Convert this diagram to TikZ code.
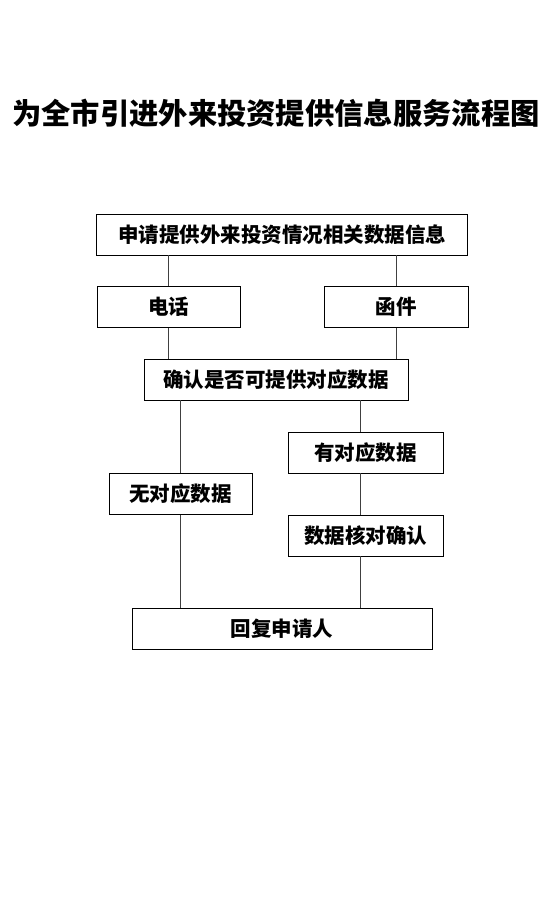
\documentclass[tikz,border=0pt]{standalone}
\usepackage{fontspec}
\newfontfamily\cjk{Noto Sans CJK SC}
\usetikzlibrary{positioning}
\tikzset{
  kasten/.style = {rectangle, draw, line width=0.9pt, fill=white, minimum height=41pt, inner sep=0pt, font=\cjk\bfseries\fontsize{20.5}{20.5}\selectfont},
  linie/.style  = {line width=0.9pt, draw=black!75},
  titel/.style  = {font=\cjk\bfseries\fontsize{29.3}{29.3}\selectfont}
}
\begin{document}
\begin{tikzpicture}[x=1pt, y=-1pt]
  \useasboundingbox (0,0) rectangle (555,916);

  % ---------- Titel ----------
  \node[titel] (T) at (276,113) {为全市引进外来投资提供信息服务流程图};

  % ---------- Antrag ----------
  \node[kasten, minimum width=371pt] (req) at (282,234.5) {申请提供外来投资情况相关数据信息};
  \node[kasten, minimum width=143pt] (tel) at (168.5,307) {电话};
  \node[kasten, minimum width=144pt] (brf) at (396,307) {函件};
  \draw[linie] (tel.north) -- (tel.north |- req.south);
  \draw[linie] (brf.north) -- (brf.north |- req.south);

  % ---------- Pruefung ----------
  \node[kasten, minimum width=264pt] (chk) at (276,379.5) {确认是否可提供对应数据};
  \draw[linie] (tel.south) -- (tel.south |- chk.north);
  \draw[linie] (brf.south) -- (brf.south |- chk.north);

  % ---------- Verzweigung ----------
  \coordinate (rx) at (360,0);
  \node[kasten, minimum width=155pt] (ja)   at (365.5,452.5) {有对应数据};
  \node[kasten, minimum width=143pt] (nein) at (180.5,494)   {无对应数据};
  \node[kasten, minimum width=155pt] (abg)  at (365.5,535.5) {数据核对确认};
  \draw[linie] (nein.north) -- (nein.north |- chk.south);
  \draw[linie] (chk.south -| rx) -- (ja.north -| rx);
  \draw[linie] (ja.south -| rx) -- (abg.north -| rx);

  % ---------- Antwort ----------
  \node[kasten, minimum width=300pt] (ant) at (282,629) {回复申请人};
  \draw[linie] (nein.south) -- (nein.south |- ant.north);
  \draw[linie] (abg.south -| rx) -- (ant.north -| rx);

\end{tikzpicture}
\end{document}
